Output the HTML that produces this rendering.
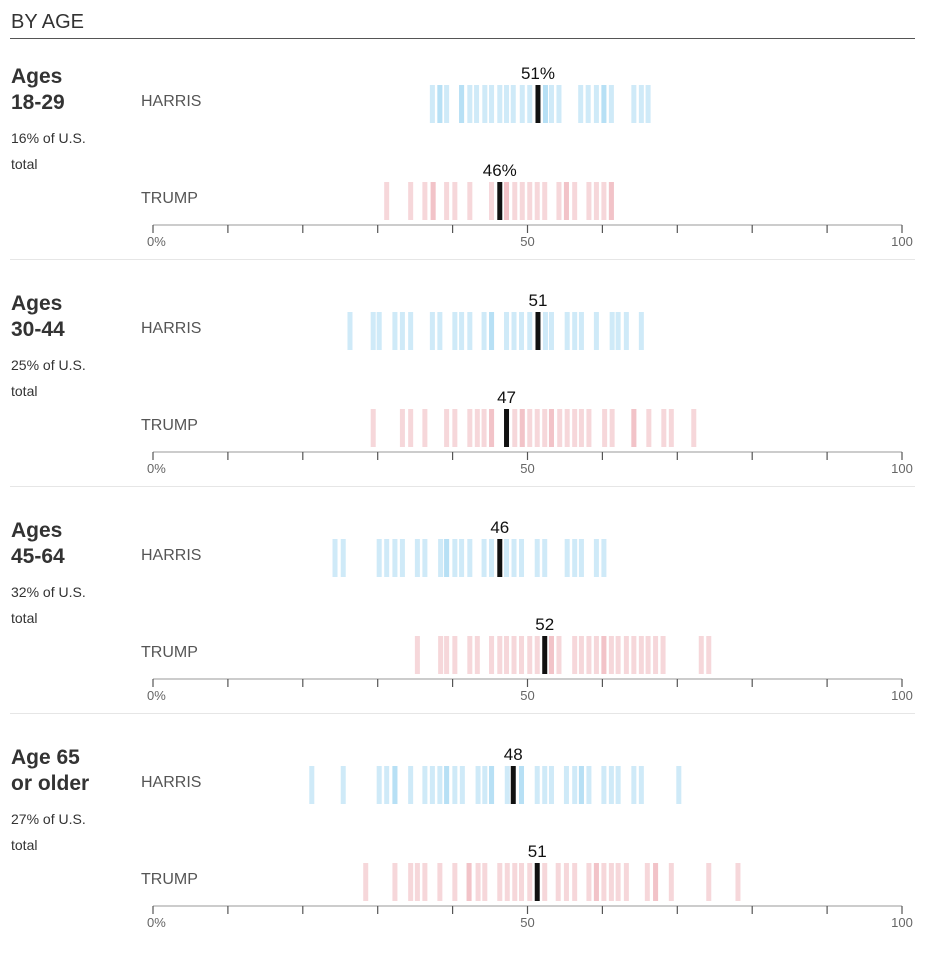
<!DOCTYPE html>
<html><head><meta charset="utf-8">
<style>
body{margin:0;background:#fff;width:936px;height:962px;overflow:hidden;font-family:"Liberation Sans",sans-serif;}
svg text{font-family:"Liberation Sans",sans-serif;}
</style></head>
<body>
<svg id="chart" width="936" height="962" xmlns="http://www.w3.org/2000/svg">
<text x="11" y="28" font-size="20" fill="#333">BY AGE</text>
<line x1="10" y1="38.5" x2="915" y2="38.5" stroke="#555" stroke-width="1"/>
</svg>
<script>
const groups = ["Ages|18-29", "Ages|30-44", "Ages|45-64", "Age 65|or older"];
const shares = ["16%", "25%", "32%", "27%"];
const harrisValues = [
 [37.3,38.3,38.3,39.2,41.2,41.2,42.3,43.2,44.3,45.2,46.3,47.2,48.1,49.3,50.3,52.4,52.4,53.2,54.2,57.1,58.1,59.2,60.2,60.2,61.2,64.2,65.2,66.1],
 [26.3,29.4,30.2,32.3,33.3,34.4,37.3,38.3,40.3,41.2,42.3,44.2,45.2,45.2,47.2,48.2,49.2,50.3,52.4,53.2,55.3,56.3,57.2,59.2,61.3,62.1,63.2,65.2],
 [24.3,25.4,30.2,31.2,32.3,33.3,35.3,36.3,38.4,39.2,39.2,40.3,41.2,42.3,44.2,45.2,47.2,48.2,49.2,51.3,52.3,55.3,56.3,57.2,59.2,60.2],
 [21.2,25.4,30.2,31.2,32.3,32.3,34.4,36.3,37.3,38.3,39.2,39.2,40.3,41.3,43.4,44.3,45.2,45.2,47.3,49.2,49.2,51.3,52.3,53.2,55.2,56.3,57.2,57.2,58.2,60.2,61.2,62.1,64.2,65.2,70.2]
];
const trumpValues = [
 [31.2,34.4,36.3,37.4,37.4,39.2,40.3,42.3,45.2,47.2,47.2,48.3,49.3,50.3,51.3,52.3,54.2,55.2,55.2,56.3,58.2,59.2,60.2,61.2,61.2],
 [29.4,33.3,34.4,36.3,39.2,40.3,42.3,43.3,44.2,45.2,45.2,48.3,49.3,49.3,50.3,51.3,52.3,53.2,53.2,54.3,55.3,56.3,57.2,58.2,60.3,61.3,64.2,64.2,66.2,68.2,69.2,72.2],
 [35.3,38.4,39.2,40.3,42.3,43.3,45.2,46.3,47.2,48.2,49.2,50.3,51.3,53.2,53.2,54.2,56.3,57.2,58.2,59.2,60.2,60.2,61.2,62.1,63.2,64.2,65.2,66.1,67.1,68.1,73.2,74.2],
 [28.4,32.3,34.4,35.3,36.3,38.3,40.3,42.2,42.2,43.4,44.3,46.3,47.3,48.3,49.2,50.3,52.3,54.1,55.2,56.3,58.2,59.2,59.2,60.2,61.2,62.1,63.2,66.0,67.1,67.1,69.2,74.2,78.1]
];
const harrisMarker = [51.4, 51.4, 46.3, 48.1];
const trumpMarker = [46.3, 47.2, 52.3, 51.3];
const harrisLabels = ["51%", "51", "46", "48"];
const trumpLabels = ["46%", "47", "52", "51"];
const tickValues = [0,10,20,30,40,50,60,70,80,90,100];
const tickLabels = {0:"0%",50:"50",100:"100"};

const NS="http://www.w3.org/2000/svg";
const svg=document.getElementById('chart');
const X0=153, X1=902;
function xScale(v){return X0+(X1-X0)*v/100;}
function mk(tag,attrs,parent){const e=document.createElementNS(NS,tag);for(const k in attrs)e.setAttribute(k,attrs[k]);(parent||svg).appendChild(e);return e;}
const PH=227;
groups.forEach((g,i)=>{
  const top=i*PH;
  const grp=mk('g',{});
  
  
  const parts=g.split('|');
  parts.forEach((p,j)=>{
    const t=mk('text',{x:11,y:top+83+j*26,'font-size':21,'font-weight':'bold',fill:'#333'},grp);
    t.textContent=p;
    
    
  });
  const s1=mk('text',{x:11,y:top+143,'font-size':14,fill:'#333'},grp);
  s1.textContent=shares[i]+' of U.S.';
  
  
  const s2=mk('text',{x:11,y:top+169,'font-size':14,fill:'#333'},grp);
  s2.textContent='total';
  
  
  const rows=[
    {name:'HARRIS',vals:harrisValues[i],m:harrisMarker[i],lab:harrisLabels[i],y:top+85,color:'#9fd5f1'},
    {name:'TRUMP',vals:trumpValues[i],m:trumpMarker[i],lab:trumpLabels[i],y:top+182,color:'#eeb0b5'}
  ];
  rows.forEach(r=>{
    const nl=mk('text',{x:141,y:r.y+21,'font-size':16,fill:'#555'},grp);
    nl.textContent=r.name;
    
    
    r.vals.forEach(v=>{
      const b=mk('rect',{x:xScale(v)-2.5,y:r.y,width:5,height:38,fill:r.color,'fill-opacity':0.5},grp);
      
      
    });
    const mkr=mk('rect',{x:xScale(r.m)-2.5,y:r.y,width:5,height:38,fill:'#111'},grp);
    
    
    const ml=mk('text',{x:xScale(r.m),y:r.y-6,'font-size':17,fill:'#111','text-anchor':'middle'},grp);
    ml.textContent=r.lab;
    
    
  });
  const ay=top+225;
  const ax=mk('line',{x1:X0,x2:X1,y1:ay,y2:ay,stroke:'#bbb','stroke-width':1.5},grp);
  
  
  tickValues.forEach(tv=>{
    const tk=mk('line',{x1:xScale(tv),x2:xScale(tv),y1:ay,y2:ay+8,stroke:'#555','stroke-width':1.2},grp);
    
    
    if(tickLabels[tv]!==undefined){
      const tl=mk('text',{x:xScale(tv)+(tv===0?-6:0),y:ay+21,'font-size':13,fill:'#666','text-anchor':tv===0?'start':'middle'},grp);
      tl.textContent=tickLabels[tv];
      
      
    }
  });
  if(i<groups.length-1){
    const sep=mk('line',{x1:10,x2:915,y1:top+259.5,y2:top+259.5,stroke:'#e6e6e6','stroke-width':1},grp);
    
    
  }
});
</script>
</body></html>
